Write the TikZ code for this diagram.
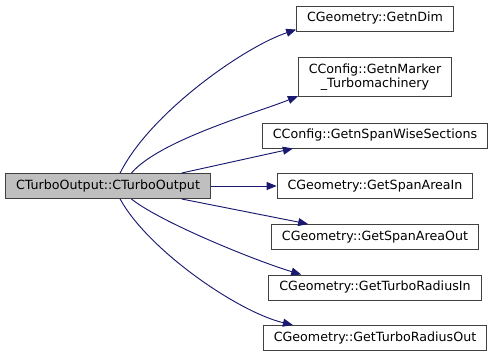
\documentclass[tikz,border=0pt]{standalone}
\usepackage{fontspec}
\setmainfont{DejaVu Sans}
\usepackage{tikz}
\usetikzlibrary{arrows.meta,positioning}

\definecolor{edgeblue}{HTML}{191970}
\definecolor{framegray}{HTML}{404040}
\definecolor{maingray}{HTML}{BFBFBF}

\tikzset{
  fnbox/.style={draw=framegray, line width=0.75pt, fill=white, rectangle,
    inner xsep=7.8pt, inner ysep=4.4pt, minimum height=18.75pt,
    font=\fontsize{9.5}{10.4}\selectfont, align=center},
  mainbox/.style={fnbox, fill=maingray},
  call/.style={draw=edgeblue, line width=0.7pt,
    -{Triangle[length=7.5pt,width=6pt]}, fill=none}
}

\begin{document}
\begin{tikzpicture}[x=0.75pt,y=-0.75pt]
\useasboundingbox (0,0) rectangle (496,357);
% caller
\node[mainbox] (turbo) at (108,186) {CTurboOutput::CTurboOutput};
% callees
\node[fnbox] (ndim) at (375,18.5) {CGeometry::GetnDim};
\node[fnbox] (nmarker) at (375,77) {CConfig::GetnMarker\\\_Turbomachinery};
\node[fnbox] (nspan) at (375,135.5) {CConfig::GetnSpanWiseSections};
\node[fnbox] (areain) at (375,186) {CGeometry::GetSpanAreaIn};
\node[fnbox] (areaout) at (375,237) {CGeometry::GetSpanAreaOut};
\node[fnbox] (radin) at (375,287.5) {CGeometry::GetTurboRadiusIn};
\node[fnbox] (radout) at (375,338) {CGeometry::GetTurboRadiusOut};
% calls
\draw[call] (turbo.47) .. controls (150,113) and (244,47) .. (ndim.188);
\draw[call] (turbo.29.5) .. controls (160,140) and (256,113) .. (nmarker.194);
\draw[call] (turbo.10.8) -- (nspan.189.8);
\draw[call] (turbo.east) -- (areain.west);
\draw[call] (turbo.-10.8) -- (areaout.169.9);
\draw[call] (turbo.-29.5) .. controls (160,222) and (256,261) .. (radin.170.3);
\draw[call] (turbo.-47) .. controls (148,250) and (238,312) .. (radout.171.8);
\end{tikzpicture}
\end{document}
